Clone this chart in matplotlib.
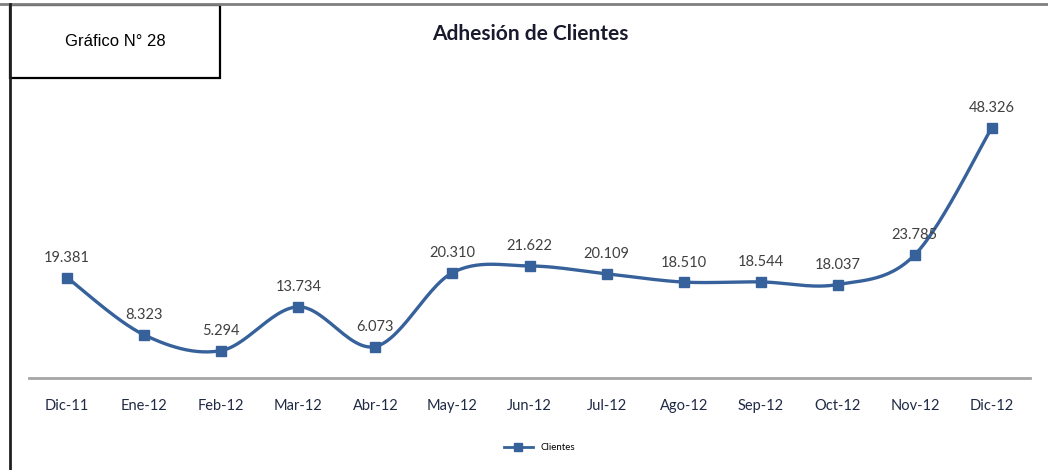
import numpy as np
import matplotlib.pyplot as plt
from matplotlib.patches import Rectangle
from matplotlib.lines import Line2D

meses = ['Dic-11', 'Ene-12', 'Feb-12', 'Mar-12', 'Abr-12', 'May-12', 'Jun-12',
         'Jul-12', 'Ago-12', 'Sep-12', 'Oct-12', 'Nov-12', 'Dic-12']
clientes = [19381, 8323, 5294, 13734, 6073, 20310, 21622,
            20109, 18510, 18544, 18037, 23785, 48326]

azul = '#36619B'
plt.rcParams['font.family'] = ['Lato', 'DejaVu Sans']


def suavizar(x, y, n=30):
    # curva tipo Excel (Bezier con puntos de control a 1/6)
    x = np.asarray(x, float)
    y = np.asarray(y, float)
    px = np.concatenate([[x[0]], x, [x[-1]]])
    py = np.concatenate([[y[0]], y, [y[-1]]])
    xs, ys = [], []
    t = np.linspace(0, 1, n)
    for i in range(1, len(px) - 2):
        p0 = np.array([px[i], py[i]])
        p3 = np.array([px[i + 1], py[i + 1]])
        p1 = p0 + (p3 - np.array([px[i - 1], py[i - 1]])) / 6
        p2 = p3 - (np.array([px[i + 2], py[i + 2]]) - p0) / 6
        b = ((1 - t) ** 3)[:, None] * p0 + (3 * (1 - t) ** 2 * t)[:, None] * p1 \
            + (3 * (1 - t) * t ** 2)[:, None] * p2 + (t ** 3)[:, None] * p3
        xs.extend(b[:, 0])
        ys.extend(b[:, 1])
    return xs, ys


fig = plt.figure(figsize=(10.48, 4.7), dpi=100)
ax = fig.add_axes([0.0272, 0.1957, 0.9561, 0.6617])

x = np.arange(len(meses))
sx, sy = suavizar(x, clientes)
ax.plot(sx, sy, color=azul, lw=2.4, solid_capstyle='round', zorder=2)
ax.plot(x, clientes, ls='none', marker='s', ms=7, color=azul, zorder=3)

for xi, v in zip(x, clientes):
    ax.annotate(f'{v:,}'.replace(',', '.'), (xi, v), xytext=(0, 9),
                textcoords='offset points', ha='center', va='bottom',
                fontsize=10.5, color='#404040')

ax.set_xlim(-0.5, len(meses) - 0.5)
ax.set_ylim(0, 60000)
ax.set_xticks(x)
ax.set_xticklabels(meses, fontsize=10.5, color='#1F2A44')
ax.tick_params(axis='x', length=0, pad=15)
ax.set_yticks([])
for s in ['top', 'right', 'left']:
    ax.spines[s].set_visible(False)
ax.spines['bottom'].set_color('#A6A6A6')
ax.spines['bottom'].set_linewidth(2)

fig.text(0.506, 0.927, 'Adhesión de Clientes', ha='center', va='center',
         fontsize=15, fontweight='bold', color='#1A1A2E')

# leyenda
leg = ax.legend([Line2D([0], [0], color=azul, lw=2, marker='s', ms=6)], ['Clientes'],
                loc='center', bbox_to_anchor=(0.51, -0.225), frameon=False,
                fontsize=7, handlelength=3)

# marco y recuadro
fig.add_artist(Line2D([0, 1], [0.991, 0.991], color='#7F7F7F', lw=2,
                      transform=fig.transFigure))
fig.add_artist(Line2D([0.0095, 0.0095], [0, 0.991], color='#202020', lw=2,
                      transform=fig.transFigure))
fig.add_artist(Rectangle((0.0095, 0.834), 0.2, 0.155, transform=fig.transFigure,
                         fill=False, ec='black', lw=1.6))
fig.text(0.11, 0.912, 'Gráfico N° 28', ha='center', va='center', fontsize=12,
         family=['Liberation Sans', 'DejaVu Sans'], color='black')

fig.savefig('out.png', dpi=100, facecolor='white')
